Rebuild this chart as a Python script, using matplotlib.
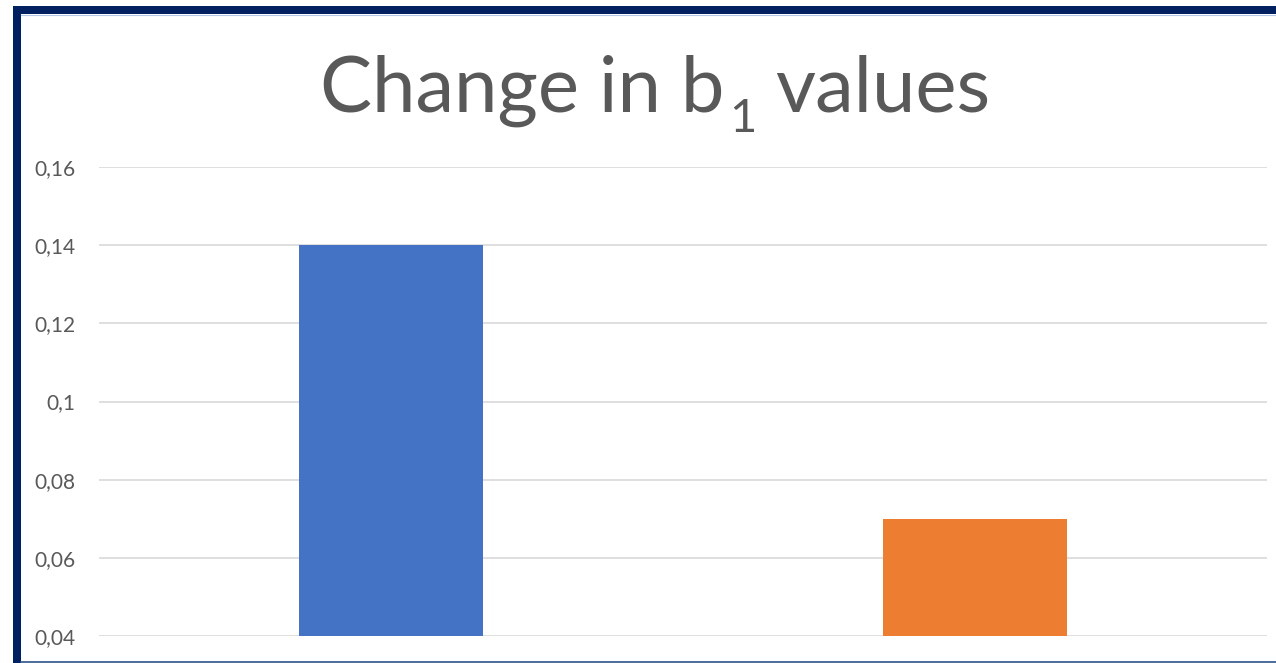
import matplotlib
matplotlib.use("Agg")
import matplotlib.pyplot as plt
from matplotlib.patches import Rectangle
from matplotlib.lines import Line2D
from matplotlib.ticker import FuncFormatter

categories = ["b1 before", "b1 after"]
values = [0.14, 0.07]
bar_colors = ["#4472C4", "#ED7D31"]
yticks = [0.04, 0.06, 0.08, 0.10, 0.12, 0.14, 0.16]

plt.rcParams["font.family"] = ["Lato", "DejaVu Sans"]

W, H = 1276, 663
fig = plt.figure(figsize=(W / 100, H / 100), dpi=100)
ax = fig.add_axes([99 / W, 1 - 636 / H, (1267 - 99) / W, (636 - 167) / H])

x = range(len(categories))
ax.bar(x, values, width=0.315, color=bar_colors, zorder=3)
ax.set_xlim(-0.5, 1.5)
ax.set_ylim(0.04, 0.16)
ax.set_yticks(yticks)


def comma_fmt(v, pos):
    s = ("%.2f" % v).rstrip("0").rstrip(".")
    return s.replace(".", ",")


ax.yaxis.set_major_formatter(FuncFormatter(comma_fmt))
ax.set_xticks([])
ax.tick_params(axis="y", length=0, pad=17, labelsize=15, labelcolor="#595959")
ax.grid(axis="y", color="#D9D9D9", linewidth=1.2, zorder=0)
for s in ax.spines.values():
    s.set_visible(False)

# title in three pieces so the subscript sits like the original
title_col = "#595959"
fig.text(724 / W, 1 - 112 / H, "Change in b", ha="right", va="baseline",
         fontsize=56, color=title_col)
fig.text(729 / W, 1 - 132 / H, "1", ha="left", va="baseline",
         fontsize=34, color=title_col)
fig.text(775 / W, 1 - 112 / H, "values", ha="left", va="baseline",
         fontsize=56, color=title_col)

# frame of the slide
navy = "#002060"
fig.add_artist(Rectangle((13 / W, 1 - 14 / H), (W - 13) / W, 8 / H,
                         transform=fig.transFigure, color=navy, lw=0))
fig.add_artist(Rectangle((13 / W, 0), 8 / W, 1 - 6 / H,
                         transform=fig.transFigure, color=navy, lw=0))
fig.add_artist(Line2D([21 / W, 1], [1 - 14.7 / H, 1 - 14.7 / H],
                      transform=fig.transFigure, color="#B4C7E7", lw=0.8))
fig.add_artist(Line2D([21 / W, 1], [0.8 / H, 0.8 / H],
                      transform=fig.transFigure, color="#2F528F", lw=1.2))

fig.savefig("out.png", dpi=100)
